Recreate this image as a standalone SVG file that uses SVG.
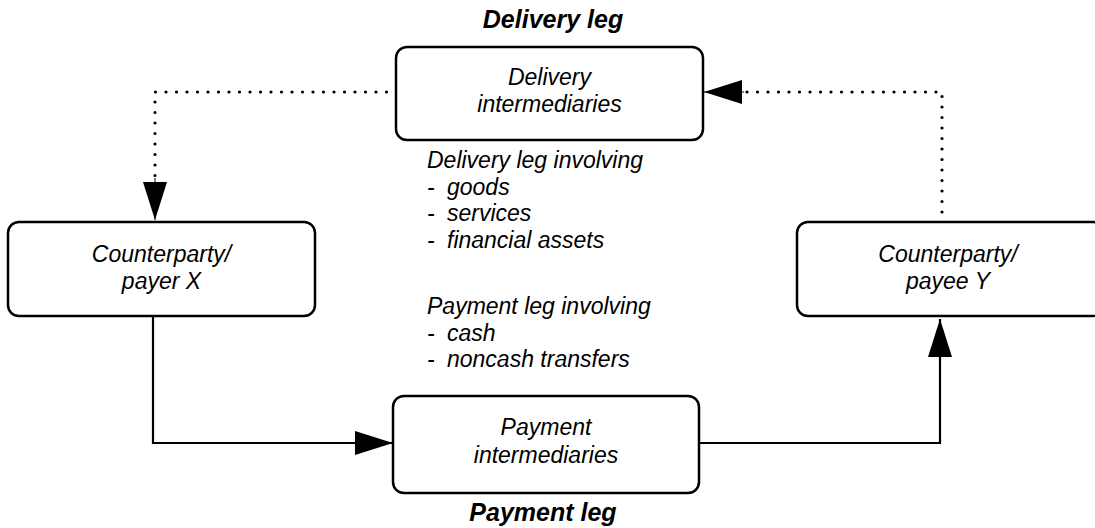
<svg xmlns="http://www.w3.org/2000/svg" width="1095" height="528" viewBox="0 0 1095 528">
<style>
.box{fill:#fff;stroke:#000;stroke-width:2.5}
.t{font-family:"Liberation Sans",Arial,sans-serif;font-style:italic;font-size:23px;fill:#000}
.title{font-family:"Liberation Sans",Arial,sans-serif;font-style:italic;font-weight:bold;font-size:25px;fill:#000}
.solid{fill:none;stroke:#000;stroke-width:2.2}
.dot{fill:none;stroke:#000;stroke-width:3.2;stroke-linecap:round;stroke-dasharray:0 10.5}
</style>
<defs>
<marker id="ah" viewBox="0 0 38 24" refX="38" refY="12" markerWidth="38" markerHeight="24" markerUnits="userSpaceOnUse" orient="auto">
<path d="M0,0 L38,12 L0,24 Z" fill="#000"/>
</marker>
</defs>
<rect width="1095" height="528" fill="#fff"/>
<g id="connectors">
<path class="dot" d="M397,92 L155,92 L155,180"/>
<path d="M155,178 L155,220" stroke="#000" stroke-width="1" marker-end="url(#ah)"/>
<path class="dot" d="M942,212 L942,92 L742,92"/>
<path d="M744,92 L704,92" stroke="#000" stroke-width="1" marker-end="url(#ah)"/>
<path class="solid" d="M153,316 L153,443 L393,443" marker-end="url(#ah)"/>
<path class="solid" d="M699,443 L940,443 L940,319" marker-end="url(#ah)"/>
</g>
<text class="title" x="553" y="28" text-anchor="middle">Delivery leg</text>
<g id="delivery">
<rect class="box" x="396" y="47" width="307" height="93" rx="11"/>
<text class="t" text-anchor="middle"><tspan x="549.5" y="85">Delivery</tspan><tspan x="549.5" y="112">intermediaries</tspan></text>
</g>
<g id="payer">
<rect class="box" x="8" y="222" width="307" height="94" rx="11"/>
<text class="t" text-anchor="middle"><tspan x="161.5" y="262">Counterparty/</tspan><tspan x="161.5" y="289">payer X</tspan></text>
</g>
<g id="payee">
<rect class="box" x="797" y="222" width="307" height="94" rx="11"/>
<text class="t" text-anchor="middle"><tspan x="948" y="262">Counterparty/</tspan><tspan x="948" y="289">payee Y</tspan></text>
</g>
<g id="payment">
<rect class="box" x="393" y="396" width="306" height="97" rx="11"/>
<text class="t" text-anchor="middle"><tspan x="546" y="435">Payment</tspan><tspan x="546" y="463">intermediaries</tspan></text>
</g>
<text class="title" x="543" y="521" text-anchor="middle">Payment leg</text>
<g id="notes">
<text class="t"><tspan x="427" y="168">Delivery leg involving</tspan><tspan x="427" y="194.5">-</tspan><tspan x="447" y="194.5">goods</tspan><tspan x="427" y="221">-</tspan><tspan x="447" y="221">services</tspan><tspan x="427" y="247.5">-</tspan><tspan x="447" y="247.5">financial assets</tspan></text>
<text class="t"><tspan x="427" y="314">Payment leg involving</tspan><tspan x="427" y="340.5">-</tspan><tspan x="447" y="340.5">cash</tspan><tspan x="427" y="367">-</tspan><tspan x="447" y="367">noncash transfers</tspan></text>
</g>
</svg>
